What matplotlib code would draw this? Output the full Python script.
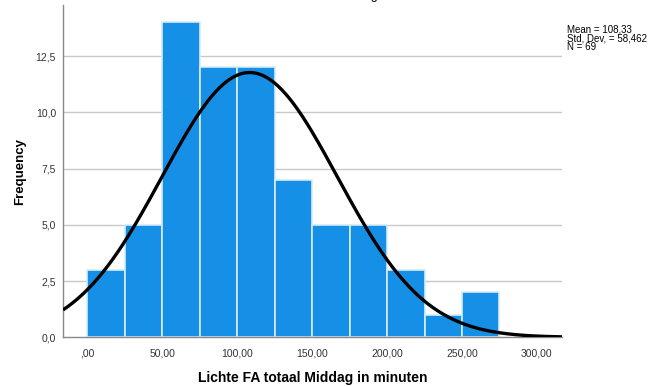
import numpy as np
import matplotlib
matplotlib.use("Agg")
import matplotlib.pyplot as plt

plt.rcParams['font.family'] = ['Liberation Sans', 'DejaVu Sans']

# histogram data (bin width 25 minutes)
bin_edges = [0, 25, 50, 75, 100, 125, 150, 175, 200, 225, 250, 275]
counts = [3, 5, 14, 12, 12, 7, 5, 5, 3, 1, 2]
mean_val = 108.33
std_val = 58.462
n_val = 69

x_ticks = [0, 50, 100, 150, 200, 250, 300]
x_labels = [",00", "50,00", "100,00", "150,00", "200,00", "250,00", "300,00"]
y_ticks = [0, 2.5, 5, 7.5, 10, 12.5]
y_labels = ["0,0", "2,5", "5,0", "7,5", "10,0", "12,5"]

fig = plt.figure(figsize=(6.62, 3.87), dpi=100)
ax = fig.add_axes([63 / 662, 0.1284, 499 / 662, 0.8579])

lefts = bin_edges[:-1]
widths = np.diff(bin_edges)
ax.bar(lefts, counts, width=widths, align='edge', color='#1590e6',
       edgecolor='#d6ecfb', linewidth=1.2, zorder=2)

# normal curve scaled to counts
xs = np.linspace(-16.2, 316.7, 400)
scale = n_val * 25
ys = scale / (std_val * np.sqrt(2 * np.pi)) * np.exp(-0.5 * ((xs - mean_val) / std_val) ** 2)
ax.plot(xs, ys, color='black', lw=2.4, zorder=3, solid_capstyle='butt')

ax.set_xlim(-16.2, 316.7)
ax.set_ylim(0, 14.76)
ax.set_xticks(x_ticks)
ax.set_xticklabels(x_labels, fontsize=7.5, color='#333333')
ax.set_yticks(y_ticks)
ax.set_yticklabels(y_labels, fontsize=7.5, color='#333333')
ax.tick_params(length=0, pad=8)
ax.tick_params(axis='y', pad=5)

for y in y_ticks[1:]:
    ax.axhline(y, color='#c8c8c8', lw=1, zorder=1)

for s in ['top', 'right']:
    ax.spines[s].set_visible(False)
for s in ['left', 'bottom']:
    ax.spines[s].set_color('#888888')
    ax.spines[s].set_linewidth(1)

ax.set_xlabel("Lichte FA totaal Middag in minuten", fontsize=10, fontweight='bold', labelpad=9)
ax.set_ylabel("Frequency", fontsize=9.5, fontweight='bold', labelpad=7)

fig.text(567 / 662, 1 - 24 / 387,
         f"Mean = {mean_val:.2f}".replace('.', ',') + "\n"
         + f"Std. Dev. = {std_val:.3f}".replace('.', ',') + f"\nN = {n_val}",
         fontsize=7, va='top', ha='left', linespacing=0.9)

# title mostly cut off at the top edge, only the descender shows
fig.text(312 / 662, 1 + 1.5 / 387, "Lichte FA totaal Middag", fontsize=9,
         ha='center', va='baseline')

fig.savefig("out.png", dpi=100)
